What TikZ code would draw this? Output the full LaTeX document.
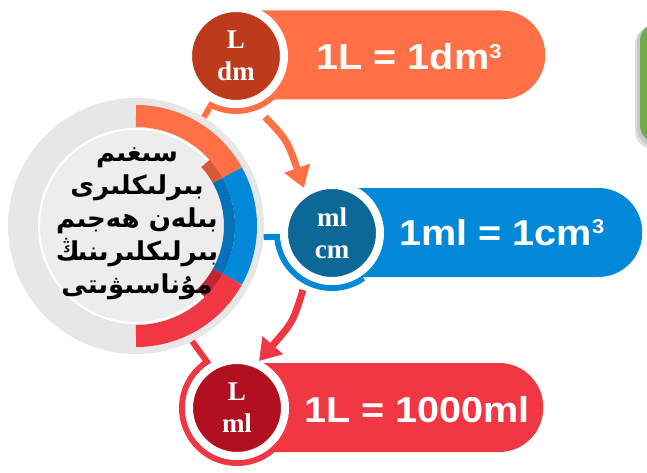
\documentclass[tikz,border=0pt]{standalone}
\usepackage{fontspec}
\usetikzlibrary{arrows.meta,calc}
\TeXXeTstate=1
\newfontfamily\ugfont[Script=Arabic]{DejaVu Sans}
\newfontfamily\pillfont[FakeStretch=1.1]{Liberation Sans}
\newfontfamily\circfont{Liberation Serif}
\newcommand\cubesup{\raisebox{11.5pt}{\fontsize{20}{20}\selectfont 3}}
\definecolor{oL}{HTML}{FF7046}
\definecolor{oD}{HTML}{BE3A1C}
\definecolor{oM}{HTML}{D45A35}
\definecolor{bL}{HTML}{0288D8}
\definecolor{bD}{HTML}{0B6897}
\definecolor{bM}{HTML}{0670B8}
\definecolor{rL}{HTML}{F03743}
\definecolor{rD}{HTML}{B20F21}
\definecolor{rM}{HTML}{C42433}
\definecolor{hubgrey}{HTML}{E7E7E7}
\definecolor{diskgrey}{HTML}{EDEDED}
\definecolor{greenc}{HTML}{70AD47}
\definecolor{shadowgrey}{HTML}{C8C8C8}
\begin{document}
\begin{tikzpicture}[x=1pt,y=-1pt,
  pillbox/.style={rectangle, rounded corners=44pt, minimum height=89pt, inner sep=0pt, anchor=west},
  unitcirc/.style={circle, draw=white, line width=8pt, minimum size=96pt, inner sep=0pt, text=white,
    font=\circfont\bfseries\fontsize{27}{32}\selectfont, align=center},
  ringline/.style={line width=6pt},
  pilltext/.style={text=white, anchor=base, inner sep=0pt, font=\pillfont\bfseries\fontsize{36}{40}\selectfont},
  bigarrow/.style={line width=7pt, -{Triangle[width=26pt,length=21pt]}},
  band/.style={line width=22pt},
  innerband/.style={line width=11pt}
]
\useasboundingbox (0,0) rectangle (647,473);
\clip (0,0) rectangle (647,473);

% partial green box at right edge
\fill[shadowgrey!60, rounded corners=18pt] (635,26) rectangle (700,149);
\fill[shadowgrey, rounded corners=18pt] (637,25) rectangle (700,146);
\fill[greenc, rounded corners=18pt] (640,23) rectangle (700,143);

% hub circle
\node[circle, fill=hubgrey, minimum size=256pt, inner sep=0pt] (hub) at (136,226) {};
\fill[diskgrey] (hub.center) circle[radius=97];
\draw[white, line width=2pt] (hub.center) circle[radius=97];
\draw[band, oL] ($(hub.center)+(-90:110)$) arc[start angle=-90, end angle=-29, radius=110];
\draw[band, bL] ($(hub.center)+(-29:110)$) arc[start angle=-29, end angle=29, radius=110];
\draw[band, rL] ($(hub.center)+(29:110)$) arc[start angle=29, end angle=90, radius=110];
\draw[innerband, oM] ($(hub.center)+(-42:93.5)$) arc[start angle=-42, end angle=-29, radius=93.5];
\draw[innerband, bM] ($(hub.center)+(-29:93.5)$) arc[start angle=-29, end angle=29, radius=93.5];
\draw[innerband, rM] ($(hub.center)+(29:93.5)$) arc[start angle=29, end angle=46, radius=93.5];

\node[text=black, align=center, inner sep=0pt,
  font=\ugfont\bfseries\fontsize{26}{33}\selectfont] (hubtext) at (137,224)
  {\beginR سىغىم\endR\\
   \beginR بىرلىكلىرى\endR\\
   \beginR بىلەن ھەجىم\endR\\
   \beginR بىرلىكلىرىنىڭ\endR\\
   \beginR مۇناسىۋىتى\endR};

% small circle positions
\coordinate (p1) at (236,56);
\coordinate (p2) at (332,233);
\coordinate (p3) at (237,408);

% connectors and rings
\draw[ringline, oL] (hub.58) -- ($(p1)+(117:55)$) arc[start angle=117, end angle=45, radius=55];
\draw[ringline, bL] (hub.-5) -- ($(p2)+(176:55)$) arc[start angle=176, end angle=55, radius=55];
\draw[ringline, rL] (hub.-64) -- ($(p3)+(-123:55)$) arc[start angle=-123, end angle=-310, radius=55];

% pills
\node[pillbox, fill=oL, minimum width=355pt] (pill1) at (190,55) {};
\node[pillbox, fill=bL, minimum width=355pt] (pill2) at (287,232.5) {};
\node[pillbox, fill=rL, minimum width=352pt] (pill3) at (191,407.5) {};

% arrows
\coordinate (a1s) at (265,117);
\coordinate (a1e) at (304,188);
\coordinate (a2s) at (303,290);
\coordinate (a2e) at (259,361);
\draw[bigarrow, oL] (a1s) .. controls (287,140) .. (a1e);
\draw[bigarrow, rL] (a2s) .. controls (293,322) .. (a2e);

% unit circles
\node[unitcirc, fill=oD] (c1) at (p1) {L\\dm};
\node[unitcirc, fill=bD] (c2) at (p2) {ml\\cm};
\node[unitcirc, fill=rD] (c3) at (p3) {L\\ml};

% pill texts
\node[pilltext] (t1) at (409,70) {1L = 1dm\cubesup};
\node[pilltext] (t2) at (502,245) {1ml = 1cm\cubesup};
\node[pilltext] (t3) at (417,422) {1L = 1000ml};
\end{tikzpicture}
\end{document}
